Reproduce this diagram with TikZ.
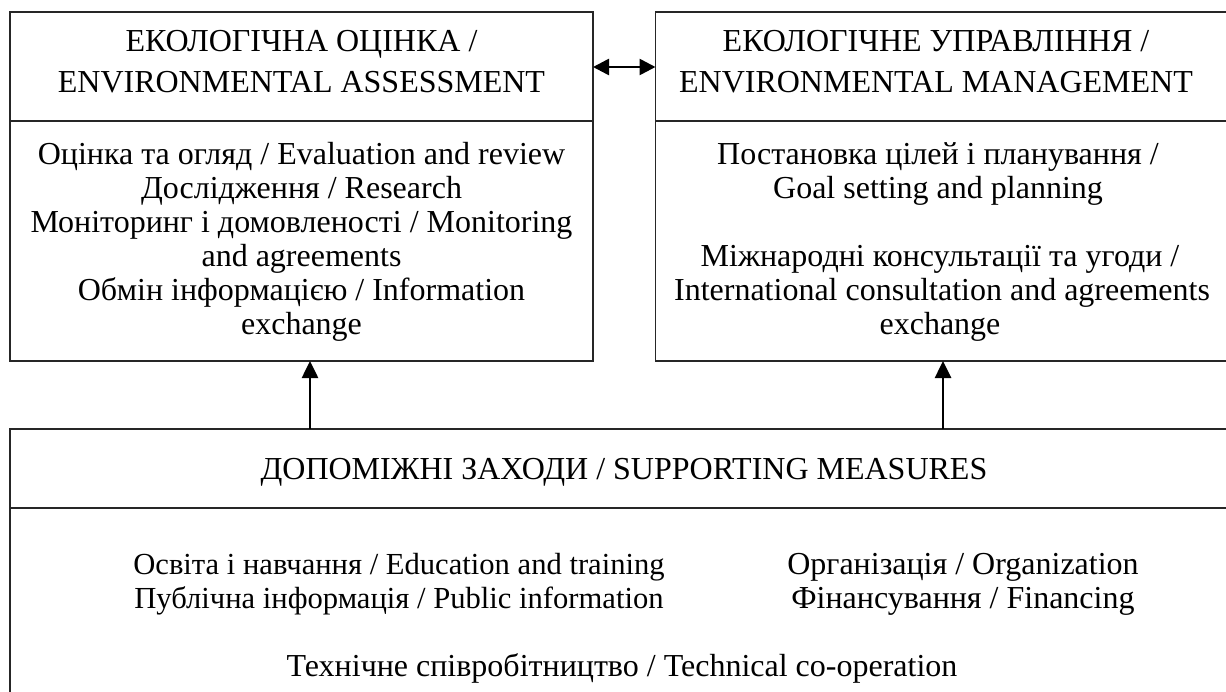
\documentclass[tikz,border=0pt]{standalone}
\usepackage{fontspec}
\setmainfont{Liberation Serif}
\usetikzlibrary{arrows.meta}
\tikzset{
  box/.style={draw=black!85, line width=1.2pt, rectangle, outer sep=0pt, inner sep=0pt},
  divline/.style={draw=black!85, line width=1.2pt},
  txt/.style={anchor=base, inner sep=0pt, font=\fontsize{32}{36}\selectfont},
  txtsm/.style={anchor=base, inner sep=0pt, font=\fontsize{30.6}{34}\selectfont},
  arr/.style={line width=2.6pt, -{Triangle[length=17pt,width=16pt]}},
  darr/.style={line width=2.6pt, {Triangle[length=16pt,width=16pt]}-{Triangle[length=16pt,width=16pt]}}
}
\begin{document}
\begin{tikzpicture}[x=1pt,y=-1pt]
\useasboundingbox (0,0) rectangle (1226,691);
\clip (0,0) rectangle (1226,691);
% boxes
\node[box, minimum width=583pt, minimum height=349pt] (ea) at (301.5,186.5) {};
\node[box, minimum width=585pt, minimum height=349pt] (em) at (1240.5,186.5) [anchor=east] {};
\node[box, minimum width=1230pt, minimum height=272pt] (sm) at (10,429) [anchor=north west] {};
\draw[divline] (ea.west |- 0,121) -- (ea.east |- 0,121);
\draw[divline] (em.west |- 0,121) -- (em.east |- 0,121);
\draw[divline] (sm.west |- 0,508) -- (sm.east |- 0,508);
% connectors
\draw[darr] (ea.east |- 0,67) -- (em.west |- 0,67);
\coordinate (a1) at (310,429);
\coordinate (a2) at (943,429);
\draw[arr] (a1) -- (a1 |- ea.south);
\draw[arr] (a2) -- (a2 |- em.south);
% left box text
\node[txt] (ea1) at (301.5,51) {ЕКОЛОГІЧНА ОЦІНКА /};
\node[txt] (ea2) at (301.5,92) {ENVIRONMENTAL ASSESSMENT};
\node[txt] (eb1) at (301.5,164) {Оцінка та огляд / Evaluation and review};
\node[txt] (eb2) at (301.5,198) {Дослідження / Research};
\node[txt] (eb3) at (301.5,232) {Моніторинг і домовленості / Monitoring};
\node[txt] (eb4) at (301.5,266) {and agreements};
\node[txt] (eb5) at (301.5,300) {Обмін інформацією / Information};
\node[txt] (eb6) at (301.5,334) {exchange};
% right box text
\node[txt] (em1) at (936,51) {ЕКОЛОГІЧНЕ УПРАВЛІННЯ /};
\node[txt] (em2) at (936,92) {ENVIRONMENTAL MANAGEMENT};
\node[txt] (mb1) at (938,164) {Постановка цілей і планування /};
\node[txt] (mb2) at (938,198) {Goal setting and planning};
\node[txt] (mb4) at (940,266) {Міжнародні консультації та угоди /};
\node[txt] (mb5) at (942,300) {International consultation and agreements};
\node[txt] (mb6) at (940,334) {exchange};
% bottom box text
\node[txt] (sm1) at (624,479) {ДОПОМІЖНІ ЗАХОДИ / SUPPORTING MEASURES};
\node[txtsm] (sb1) at (399,574) {Освіта і навчання / Education and training};
\node[txtsm] (sb2) at (399,608) {Публічна інформація / Public information};
\node[txt] (sb3) at (963,574) {Організація / Organization};
\node[txt] (sb4) at (963,608) {Фінансування / Financing};
\node[txt] (sb5) at (622,676) {Технічне співробітництво / Technical co-operation};
\end{tikzpicture}
\end{document}
